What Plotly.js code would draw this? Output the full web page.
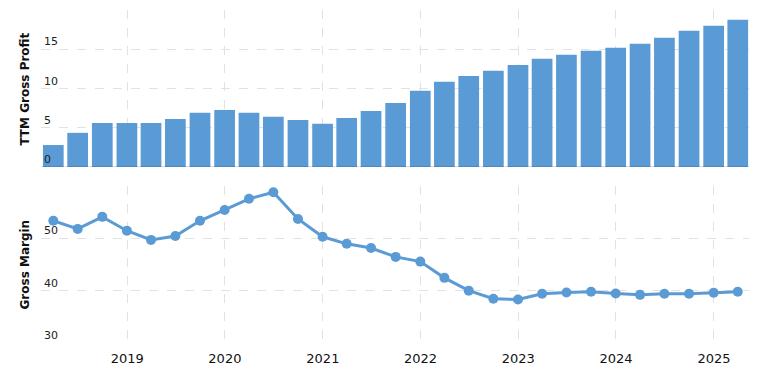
<!DOCTYPE html>
<html>
<head>
<meta charset="utf-8">
<script src="https://cdn.plot.ly/plotly-3.0.1.min.js"></script>
<style>html,body{margin:0;padding:0;background:#fff;}#chart{width:766px;height:372px;}</style>
</head>
<body>
<div id="chart"></div>
<script>
const quarters = [
  "2018-03-31","2018-06-30","2018-09-30","2018-12-31",
  "2019-03-31","2019-06-30","2019-09-30","2019-12-31",
  "2020-03-31","2020-06-30","2020-09-30","2020-12-31",
  "2021-03-31","2021-06-30","2021-09-30","2021-12-31",
  "2022-03-31","2022-06-30","2022-09-30","2022-12-31",
  "2023-03-31","2023-06-30","2023-09-30","2023-12-31",
  "2024-03-31","2024-06-30","2024-09-30","2024-12-31",
  "2025-03-31"
];
const ttmGrossProfit = [
  2.8, 4.35, 5.6, 5.6, 5.6, 6.1, 6.9, 7.25, 6.9, 6.4, 6.0, 5.5,
  6.25, 7.15, 8.15, 9.7, 10.85, 11.6, 12.25, 13.0, 13.8, 14.3,
  14.8, 15.2, 15.7, 16.45, 17.35, 18.0, 18.75
];
const grossMargin = [
  53.35, 51.8, 54.1, 51.45, 49.7, 50.45, 53.35, 55.4, 57.55, 58.8,
  53.7, 50.3, 48.95, 48.15, 46.45, 45.55, 42.45, 40.0, 38.45, 38.3,
  39.4, 39.65, 39.8, 39.45, 39.2, 39.4, 39.4, 39.6, 39.8
];
const topTickVals = [0, 5, 10, 15, 20];
const topTickText = ["0", "5", "10", "15", ""];
const botTickVals = [30, 40, 50, 60];
const botTickText = ["30", "40", "50", ""];
const yearTicks = ["2019-01-01","2020-01-01","2021-01-01","2022-01-01","2023-01-01","2024-01-01","2025-01-01"];
const yearLabels = ["2019","2020","2021","2022","2023","2024","2025"];
const topTitle = "TTM Gross Profit";
const bottomTitle = "Gross Margin";

const blue = "#5b9bd5";
const gridColor = "#e2e2e2";
const font = "DejaVu Sans, Verdana, sans-serif";

const traces = [
  {
    type: "bar", x: quarters, y: ttmGrossProfit, xaxis: "x", yaxis: "y2",
    marker: {color: blue}, hoverinfo: "x+y"
  },
  {
    type: "scatter", mode: "lines+markers", x: quarters, y: grossMargin, xaxis: "x", yaxis: "y",
    line: {color: blue, width: 3}, marker: {color: blue, size: 10}, hoverinfo: "x+y"
  }
];

const titleFont = {size: 12, color: "#111", family: font, weight: "bold"};

const layout = {
  width: 766, height: 372,
  margin: {l: 41, r: 17, t: 10, b: 29},
  paper_bgcolor: "#fff", plot_bgcolor: "#fff",
  showlegend: false,
  bargap: 0.14,
  font: {family: font, size: 11, color: "#222"},
  xaxis: {
    type: "date",
    range: ["2018-02-13", "2025-05-12"],
    tickvals: yearTicks, ticktext: yearLabels,
    tickfont: {size: 13, color: "#111"},
    ticklabelstandoff: 6,
    showgrid: true, gridcolor: gridColor, griddash: "dash", gridwidth: 1,
    zeroline: false, showline: false, ticks: "",
    anchor: "y"
  },
  yaxis: {
    domain: [0, 0.4715],
    range: [30, 60],
    tickvals: botTickVals, ticktext: botTickText,
    ticklabelposition: "inside top",
    tickfont: {size: 11, color: "#222"},
    showgrid: true, gridcolor: gridColor, griddash: "dash",
    zeroline: false, showline: false, ticks: "",
    anchor: "x"
  },
  yaxis2: {
    domain: [0.5285, 1],
    range: [0, 20],
    tickvals: topTickVals, ticktext: topTickText,
    ticklabelposition: "inside top",
    tickfont: {size: 11, color: "#222"},
    showgrid: true, gridcolor: gridColor, griddash: "dash",
    zeroline: false, showline: false, ticks: "",
    anchor: "x"
  },
  annotations: [
    {text: topTitle, xref: "paper", yref: "paper", x: -0.0226, y: 0.764,
     xanchor: "center", yanchor: "middle", textangle: -90, showarrow: false, font: titleFont},
    {text: bottomTitle, xref: "paper", yref: "paper", x: -0.0226, y: 0.2357,
     xanchor: "center", yanchor: "middle", textangle: -90, showarrow: false, font: titleFont}
  ],
  shapes: [
    {type: "line", xref: "x domain", yref: "y2", x0: 0, x1: 1, y0: 0, y1: 0,
     line: {color: "rgba(0,0,0,0.25)", width: 1}, layer: "above"}
  ]
};

Plotly.newPlot("chart", traces, layout, {displayModeBar: false, staticPlot: true});
</script>
</body>
</html>
